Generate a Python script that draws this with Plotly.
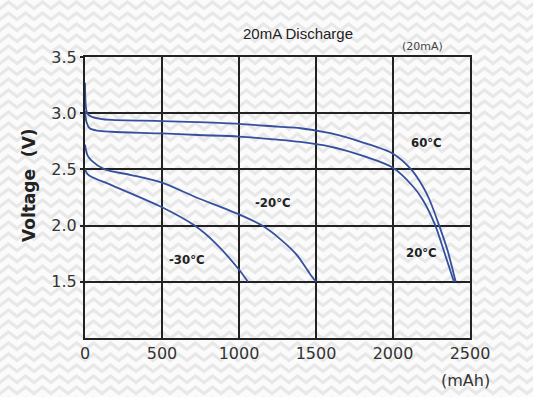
import base64
import plotly.graph_objects as go

# ---- data ----
cap_60 = [0, 8, 20, 41, 100, 171, 500, 734, 1000, 1250, 1399, 1592, 1806, 2000, 2118, 2193, 2237, 2300, 2354, 2407]
v_60 = [3.27, 3.03, 2.99, 2.97, 2.95, 2.94, 2.93, 2.92, 2.905, 2.88, 2.866, 2.822, 2.739, 2.64, 2.5, 2.35, 2.23, 2.0, 1.78, 1.5]

cap_20 = [0, 10, 30, 80, 171, 500, 734, 1000, 1250, 1399, 1592, 1806, 2000, 2129, 2193, 2275, 2329, 2396]
v_20 = [3.02, 2.92, 2.866, 2.845, 2.835, 2.82, 2.806, 2.792, 2.765, 2.745, 2.703, 2.62, 2.515, 2.35, 2.23, 2.0, 1.78, 1.5]

cap_m20 = [0, 15, 41, 128, 300, 500, 712, 1000, 1150, 1268, 1375, 1461, 1500]
v_m20 = [2.72, 2.63, 2.58, 2.5, 2.45, 2.382, 2.257, 2.10, 2.0, 1.88, 1.74, 1.57, 1.5]

cap_m30 = [0, 15, 41, 171, 500, 712, 850, 1002, 1058]
v_m30 = [2.5, 2.46, 2.435, 2.36, 2.163, 2.0, 1.84, 1.605, 1.5]

series_names = ["60°C", "20°C", "-20°C", "-30°C"]
label_x = [2218, 2186, 1220, 664]
label_y = [2.74, 1.76, 2.21, 1.70]

x_ticks = [0, 500, 1000, 1500, 2000, 2500]
y_ticks = [1.5, 2.0, 2.5, 3.0, 3.5]

# ---- background chevron pattern ----
W, H = 533, 397
svg = f'''<svg xmlns="http://www.w3.org/2000/svg" width="{W}" height="{H}">
<defs><pattern id="z" width="17" height="11" patternUnits="userSpaceOnUse">
<rect width="17" height="11" fill="#fbfbfb"/>
<path d="M-8.5,2 L0,8.5 L8.5,2 L17,8.5 L25.5,2" fill="none" stroke="#e8e8e8" stroke-width="3.2"/>
</pattern></defs>
<rect width="{W}" height="{H}" fill="url(#z)"/></svg>'''
bg_src = "data:image/svg+xml;base64," + base64.b64encode(svg.encode()).decode()

ML, MR, MT, MB = 85, 63, 57, 59
PW, PH = W - ML - MR, H - MT - MB

BLUE = "#35509f"
fig = go.Figure()
for xs, ys, nm in [(cap_60, v_60, series_names[0]), (cap_20, v_20, series_names[1]),
                   (cap_m20, v_m20, series_names[2]), (cap_m30, v_m30, series_names[3])]:
    fig.add_trace(go.Scatter(x=xs, y=ys, mode="lines", name=nm,
                             line=dict(color=BLUE, width=1.8, shape="spline", smoothing=0.8),
                             showlegend=False, hoverinfo="skip"))

label_font = dict(family="DejaVu Sans Condensed, Liberation Sans Narrow, DejaVu Sans", size=13,
                  color="#222", weight="bold")
for nm, lx, ly in zip(series_names, label_x, label_y):
    fig.add_annotation(x=lx, y=ly, text=nm, showarrow=False, font=label_font,
                       xanchor="center", yanchor="middle")


def paper_note(px, py, text, font, angle=0):
    fig.add_annotation(xref="paper", yref="paper", x=(px - ML) / PW, y=(H - MB - py) / PH,
                       text=text, showarrow=False, textangle=angle, font=font,
                       xanchor="center", yanchor="middle")


paper_note(298, 34, "20mA Discharge", dict(family="Liberation Sans, Arial", size=15, color="#222"))
paper_note(422, 46, "(20mA)", dict(family="DejaVu Sans", size=11, color="#444"))
paper_note(465, 380, "(mAh)", dict(family="DejaVu Sans", size=16, color="#333"))
paper_note(29, 185, "Voltage  (V)", dict(family="DejaVu Sans", size=17, color="#222", weight="bold"), -90)

fig.add_layout_image(dict(source=bg_src, xref="paper", yref="paper",
                          x=-ML / PW, y=1 + MT / PH, sizex=W / PW, sizey=H / PH,
                          xanchor="left", yanchor="top", sizing="stretch", layer="below"))

axis_common = dict(showline=True, linecolor="#222", linewidth=2, mirror=True,
                   showgrid=True, gridcolor="#222", gridwidth=2, zeroline=False,
                   tickfont=dict(family="DejaVu Sans", size=16, color="#333"))
fig.update_xaxes(range=[0, 2500], tickvals=x_ticks, ticks="", **axis_common)
fig.update_yaxes(range=[1.0, 3.5], tickvals=y_ticks, tickformat=".1f",
                 ticks="outside", ticklen=3, tickcolor="#222", tickwidth=2, **axis_common)

fig.update_layout(width=W, height=H, margin=dict(l=ML, r=MR, t=MT, b=MB),
                  paper_bgcolor="#f6f6f6", plot_bgcolor="rgba(0,0,0,0)")
fig.write_html("out.html", config={"displayModeBar": False},
               post_script="document.body.style.margin='0px';")
